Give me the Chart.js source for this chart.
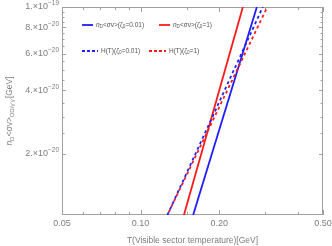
<!DOCTYPE html>
<html>
<head>
<meta charset="utf-8">
<script src="https://cdn.jsdelivr.net/npm/chart.js@4.4.1/dist/chart.umd.min.js"></script>
<style>
  html, body { margin:0; padding:0; background:#fff; }
  #wrap { width:332px; height:246px; }
</style>
</head>
<body>
<div id="wrap"><canvas id="c" width="332" height="246"></canvas></div>
<script>
// ===== rate vs Hubble, log-log =====

// temperatures [GeV] and values [GeV]
const T_rate_001 = [0.159, 0.279];
const rate_001   = [1.02e-20, 1.0e-19];
const T_rate_1   = [0.1466, 0.2466];
const rate_1     = [1.02e-20, 1.0e-19];
const T_hub_001  = [0.1267, 0.294];
const hub_001    = [1.02e-20, 1.0e-19];
const T_hub_1    = [0.1267, 0.306];
const hub_1      = [1.02e-20, 1.0e-19];

const X_MAJOR = [0.05, 0.10, 0.20, 0.50];
const X_MAJOR_LABELS = ['0.05', '0.10', '0.20', '0.50'];
const X_MINOR = [0.06, 0.07, 0.08, 0.09, 0.15, 0.3, 0.4];
const Y_MAJOR = [2e-20, 4e-20, 6e-20, 8e-20, 1e-19];
const Y_MAJOR_MANT = ['2.', '4.', '6.', '8.', '1.'];
const Y_MAJOR_EXP  = ['-20', '-20', '-20', '-20', '-19'];
const Y_MINOR = [2.5e-20, 3e-20, 3.5e-20, 4.5e-20, 5e-20, 5.5e-20, 6.5e-20, 7e-20, 7.5e-20, 8.5e-20, 9e-20, 9.5e-20];

const BLUE = '#1f1fff', RED = '#ff1a1a';
const FONT = '"Liberation Sans", Arial, sans-serif';
const GRAY = '#7d7d7d', FRAME = '#a0a0a0';

const pts = (xs, ys) => xs.map((x, i) => ({ x, y: ys[i] }));

// text with sub/superscripts: segs = [[text, 'sub'|'sup'|'it'|undefined], ...]
function richWidth(ctx, segs, size) {
  let w = 0;
  segs.forEach(([t, k]) => {
    const s = (k === 'sub' || k === 'sup') ? size * 0.72 : size;
    ctx.font = (k === 'it' ? 'italic ' : '') + s + 'px ' + FONT;
    w += ctx.measureText(t).width;
  });
  return w;
}
function drawRich(ctx, x, y, segs, size) {
  ctx.textBaseline = 'middle';
  ctx.textAlign = 'left';
  segs.forEach(([t, k]) => {
    const s = (k === 'sub' || k === 'sup') ? size * 0.72 : size;
    const dy = k === 'sub' ? size * 0.3 : k === 'sup' ? -size * 0.38 : 0;
    ctx.font = (k === 'it' ? 'italic ' : '') + s + 'px ' + FONT;
    ctx.fillText(t, x, y + dy);
    x += ctx.measureText(t).width;
  });
  return x;
}

const framePlugin = {
  id: 'frame',
  beforeDatasetsDraw(chart) {
    const { ctx, chartArea: a, scales: { x, y } } = chart;
    ctx.save();
    ctx.strokeStyle = FRAME;
    ctx.lineWidth = 1;
    ctx.strokeRect(a.left + 0.5, a.top + 0.5, a.right - a.left - 1, a.bottom - a.top - 1);
    ctx.beginPath();
    const xt = (v, len) => {
      const px = Math.round(x.getPixelForValue(v)) + 0.5;
      ctx.moveTo(px, a.bottom); ctx.lineTo(px, a.bottom - len);
      ctx.moveTo(px, a.top); ctx.lineTo(px, a.top + len);
    };
    const yt = (v, len) => {
      const py = Math.round(y.getPixelForValue(v)) + 0.5;
      ctx.moveTo(a.left, py); ctx.lineTo(a.left + len, py);
      ctx.moveTo(a.right, py); ctx.lineTo(a.right - len, py);
    };
    X_MAJOR.forEach(v => xt(v, 5));
    X_MINOR.forEach(v => xt(v, 3));
    Y_MAJOR.forEach(v => yt(v, 4));
    Y_MINOR.forEach(v => yt(v, 2.5));
    ctx.stroke();

    // tick labels
    ctx.fillStyle = GRAY;
    ctx.font = '9px ' + FONT;
    ctx.textAlign = 'center';
    ctx.textBaseline = 'middle';
    X_MAJOR.forEach((v, i) => ctx.fillText(X_MAJOR_LABELS[i], x.getPixelForValue(v), a.bottom + 9));
    Y_MAJOR.forEach((v, i) => {
      const segs = [[Y_MAJOR_MANT[i] + '\u00d710'], ['\u2212' + Y_MAJOR_EXP[i].slice(1), 'sup']];
      const w = richWidth(ctx, segs, 9);
      drawRich(ctx, a.left - 3 - w, y.getPixelForValue(v), segs, 9);
    });

    // axis titles
    ctx.font = '8.5px ' + FONT;
    ctx.textAlign = 'center';
    ctx.textBaseline = 'middle';
    ctx.fillText('T(Visible sector temperature)[GeV]', (a.left + a.right) / 2, 241);

    const ySegs = [['n', 'it'], ['D', 'sub'], ['<\u03c3v>'], ['DD/\u03b3\u2032\u03b3\u2032', 'sub'], ['[GeV]']];
    ctx.translate(10, (a.top + a.bottom) / 2);
    ctx.rotate(-Math.PI / 2);
    const yw = richWidth(ctx, ySegs, 8.5);
    drawRich(ctx, -yw / 2, 0, ySegs, 8.5);
    ctx.restore();
  },
  afterDatasetsDraw(chart) {
    const { ctx } = chart;
    ctx.save();
    const entry = (x0, x1, y, color, dash, segs) => {
      ctx.strokeStyle = color;
      ctx.lineWidth = 1.8;
      ctx.setLineDash(dash);
      ctx.beginPath(); ctx.moveTo(x0, y); ctx.lineTo(x1, y); ctx.stroke();
      ctx.fillStyle = '#555';
      drawRich(ctx, x1 + 3, y, segs, 6.5);
    };
    entry(82, 93, 25, BLUE, [], [['n', 'it'], ['D', 'sub'], ['<\u03c3v>(\u03b6'], ['0', 'sub'], ['=0.01)']]);
    entry(159, 170, 25, RED, [], [['n', 'it'], ['D', 'sub'], ['<\u03c3v>(\u03b6'], ['0', 'sub'], ['=1)']]);
    entry(82, 98, 51, BLUE, [3, 2], [['H(T)(\u03b6'], ['0', 'sub'], ['=0.01)']]);
    entry(149, 166, 51, RED, [3, 2], [['H(T)(\u03b6'], ['0', 'sub'], ['=1)']]);
    ctx.restore();
  }
};

new Chart(document.getElementById('c'), {
  type: 'line',
  data: {
    datasets: [
      { data: pts(T_hub_001, hub_001), borderColor: BLUE, borderDash: [3, 3], borderDashOffset: 0 },
      { data: pts(T_hub_1, hub_1), borderColor: RED, borderDash: [3, 3], borderDashOffset: 3 },
      { data: pts(T_rate_001, rate_001), borderColor: BLUE },
      { data: pts(T_rate_1, rate_1), borderColor: RED },
    ].map(d => Object.assign({ borderWidth: 1.8, pointRadius: 0, fill: false, tension: 0 }, d))
  },
  options: {
    responsive: false,
    animation: false,
    events: [],
    layout: { padding: { left: 62, right: 9, top: 7, bottom: 31 } },
    plugins: { legend: { display: false }, tooltip: { enabled: false } },
    scales: {
      x: { type: 'logarithmic', min: 0.05, max: 0.5, display: false },
      y: { type: 'logarithmic', min: 1.02e-20, max: 1e-19, display: false }
    }
  },
  plugins: [framePlugin]
});
</script>
</body>
</html>
